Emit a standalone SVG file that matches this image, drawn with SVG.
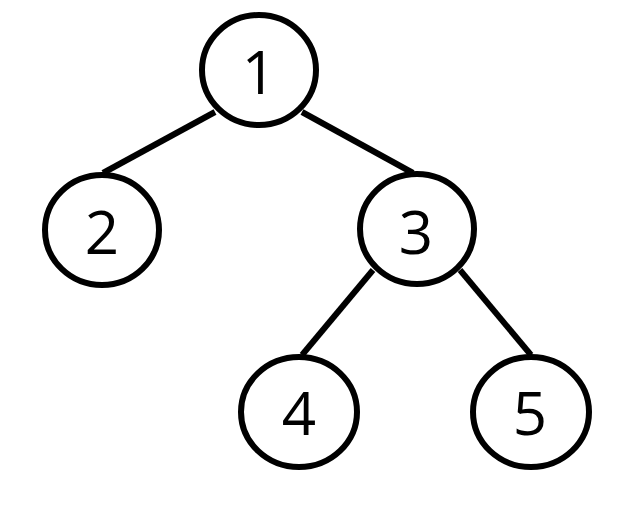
<svg xmlns="http://www.w3.org/2000/svg" width="644" height="508" viewBox="0 0 644 508">
<style>
.n ellipse{fill:#fff;stroke:#000;stroke-width:6}
.n text{font-family:"Open Sans","Noto Sans",sans-serif;font-size:60px;fill:#000;text-anchor:middle}
#edges line{stroke:#000;stroke-width:6}
</style>
<rect width="644" height="508" fill="#fff"/>
<g id="edges">
<line x1="215" y1="112" x2="103" y2="173"/>
<line x1="302" y1="112" x2="413" y2="173"/>
<line x1="373" y1="270" x2="302" y2="355"/>
<line x1="460" y1="270" x2="531" y2="355"/>
</g>
<g id="node1" class="n"><ellipse cx="259" cy="70" rx="57" ry="55"/><text x="259" y="94">1</text></g>
<g id="node2" class="n"><ellipse cx="102" cy="230" rx="57" ry="55"/><text x="102" y="254">2</text></g>
<g id="node3" class="n"><ellipse cx="417" cy="229" rx="57" ry="55"/><text x="416" y="254">3</text></g>
<g id="node4" class="n"><ellipse cx="299" cy="412" rx="58" ry="55"/><text x="299" y="435">4</text></g>
<g id="node5" class="n"><ellipse cx="531" cy="412" rx="58" ry="55"/><text x="530" y="435">5</text></g>
</svg>
